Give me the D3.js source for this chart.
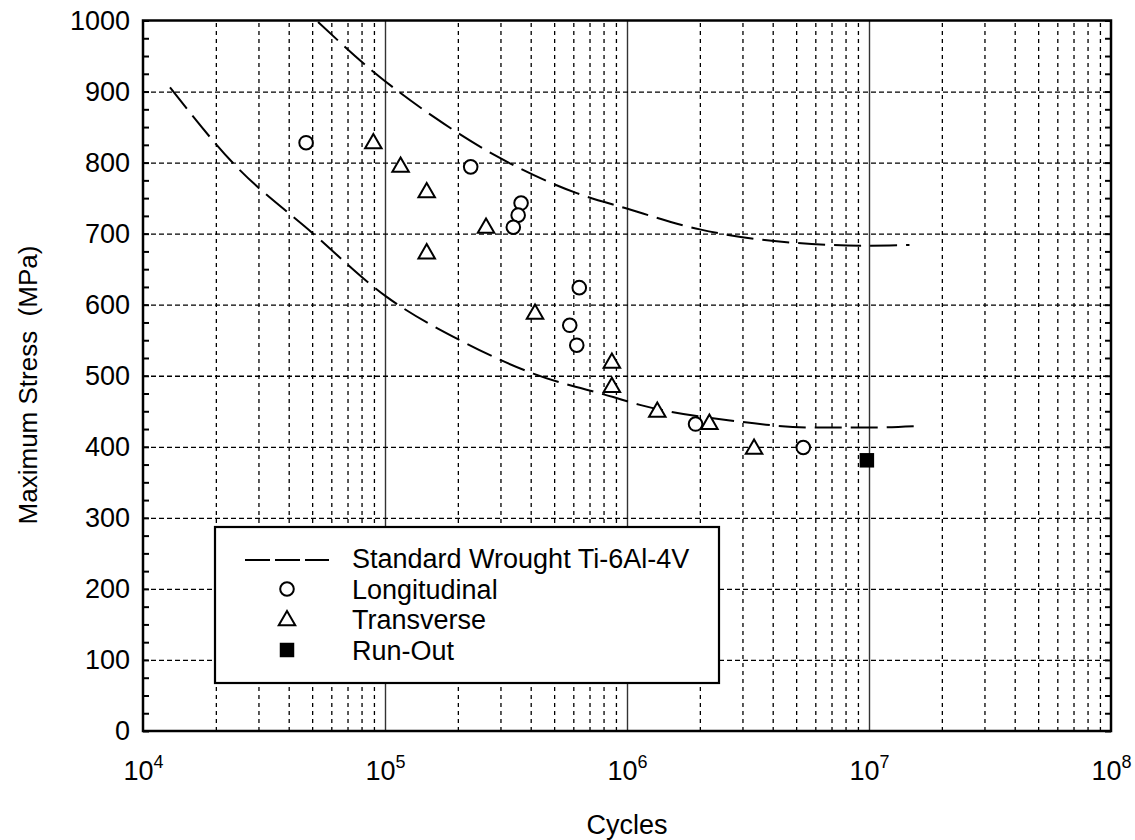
<!DOCTYPE html>
<html>
<head>
<meta charset="utf-8">
<script src="https://cdn.jsdelivr.net/npm/d3@7"></script>
<style>
  html, body { margin: 0; padding: 0; background: #fff; }
  svg { display: block; font-family: "Liberation Sans", Arial, sans-serif; }
</style>
</head>
<body>
<svg id="chart" width="1135" height="840"></svg>
<script>
// ---- data ----
const xTickExps = [4, 5, 6, 7, 8];
const yTickValues = [0, 100, 200, 300, 400, 500, 600, 700, 800, 900, 1000];

const longN = [47200, 226000, 365000, 355000, 339000, 635000, 580000, 620000, 1920000, 5350000];
const longS = [828, 794, 743, 726, 709, 624, 571, 543, 432, 399];

const transN = [89500, 116000, 148700, 148700, 261500, 416800, 866000, 866000, 1334000, 2190000, 3350000];
const transS = [829, 796, 760, 674, 710, 589, 520, 486, 451, 434, 399];

const runN = [9800000];
const runS = [381];

const upperN = [52900, 89500, 158000, 293000, 620000, 982000, 2000000, 3960000, 9930000, 14700000];
const upperS = [998, 928, 865, 808, 757, 736, 706, 690, 683, 684];

const lowerN = [12930, 23600, 50500, 101600, 204000, 410000, 877000, 1130000, 2670000, 6080000, 9770000, 15500000];
const lowerS = [906, 799, 700, 611, 550, 503, 470, 459, 437, 427, 427, 429];

const legendLabels = ["Standard Wrought Ti-6Al-4V", "Longitudinal", "Transverse", "Run-Out"];

// ---- layout ----
const L = 143, R = 1111, T = 20.5, B = 731;
const FS = 27;
const svg = d3.select("#chart");
const x = d3.scaleLog().domain([1e4, 1e8]).range([L, R]);
const y = d3.scaleLinear().domain([0, 1000]).range([B, T]);

const decades = xTickExps.map(e => Math.pow(10, e));
const minorX = [];
for (let e = 4; e < 8; e++) for (let m = 2; m <= 9; m++) minorX.push(m * Math.pow(10, e));

// vertical minor grid (dotted)
const gMinor = svg.append("g").attr("transform", `translate(0,${B})`)
  .call(d3.axisBottom(x).tickValues(minorX).tickSize(-(B - T)).tickFormat(""));
gMinor.select(".domain").remove();
gMinor.selectAll(".tick line").attr("stroke", "#000").attr("stroke-width", 1.3).attr("stroke-dasharray", "4,4");

// vertical decade grid (solid)
const gDec = svg.append("g").attr("transform", `translate(0,${B})`)
  .call(d3.axisBottom(x).tickValues(decades.slice(1, 4)).tickSize(-(B - T)).tickFormat(""));
gDec.select(".domain").remove();
gDec.selectAll(".tick line").attr("stroke", "#333").attr("stroke-width", 1.4);

// horizontal grid (dashed)
const gH = svg.append("g").attr("transform", `translate(${L},0)`)
  .call(d3.axisLeft(y).tickValues(yTickValues.slice(1, 10)).tickSize(-(R - L)).tickFormat(""));
gH.select(".domain").remove();
gH.selectAll(".tick line").attr("stroke", "#000").attr("stroke-width", 1.3).attr("stroke-dasharray", "5,3");

// curves
const line = d3.line().x(d => x(d[0])).y(d => y(d[1])).curve(d3.curveMonotoneX);
[[upperN, upperS], [lowerN, lowerS]].forEach(([ns, ss]) => {
  svg.append("path")
    .attr("d", line(ns.map((n, i) => [n, ss[i]])))
    .attr("fill", "none").attr("stroke", "#000").attr("stroke-width", 2)
    .attr("stroke-dasharray", "27,9");
});

// points
const circ = d3.symbol().type(d3.symbolCircle).size(Math.PI * 6.8 * 6.8);
const tri = d3.symbol().type(d3.symbolTriangle).size(118);
const sq = d3.symbol().type(d3.symbolSquare).size(210);

svg.append("g").selectAll("path").data(longN.map((n, i) => [n, longS[i]])).join("path")
  .attr("d", circ).attr("transform", d => `translate(${x(d[0])},${y(d[1])})`)
  .attr("fill", "#fff").attr("stroke", "#000").attr("stroke-width", 2);

svg.append("g").selectAll("path").data(transN.map((n, i) => [n, transS[i]])).join("path")
  .attr("d", tri).attr("transform", d => `translate(${x(d[0])},${y(d[1]) + 1.5})`)
  .attr("fill", "#fff").attr("stroke", "#000").attr("stroke-width", 2);

svg.append("g").selectAll("path").data(runN.map((n, i) => [n, runS[i]])).join("path")
  .attr("d", sq).attr("transform", d => `translate(${x(d[0])},${y(d[1])})`)
  .attr("fill", "#000");

// legend
const lg = svg.append("g");
lg.append("rect").attr("x", 215).attr("y", 527).attr("width", 504).attr("height", 156)
  .attr("fill", "#fff").attr("stroke", "#000").attr("stroke-width", 2.2);
const rowY = [558, 589, 619, 650];
lg.append("line").attr("x1", 245).attr("x2", 329).attr("y1", rowY[0] + 2).attr("y2", rowY[0] + 2)
  .attr("stroke", "#000").attr("stroke-width", 2).attr("stroke-dasharray", "25,5");
lg.append("path").attr("d", circ).attr("transform", `translate(287,${rowY[1]})`)
  .attr("fill", "#fff").attr("stroke", "#000").attr("stroke-width", 2);
lg.append("path").attr("d", tri).attr("transform", `translate(287,${rowY[2] + 1.5})`)
  .attr("fill", "#fff").attr("stroke", "#000").attr("stroke-width", 2);
lg.append("path").attr("d", sq).attr("transform", `translate(287,${rowY[3]})`).attr("fill", "#000");
lg.selectAll("text.lab").data(legendLabels).join("text").attr("class", "lab")
  .attr("x", 352).attr("y", (d, i) => rowY[i]).attr("dy", "0.36em")
  .attr("font-size", FS).attr("fill", "#000").text(d => d);

// frame
svg.append("rect").attr("x", L).attr("y", T).attr("width", R - L).attr("height", B - T)
  .attr("fill", "none").attr("stroke", "#000").attr("stroke-width", 2.5);

// y axis minor ticks (left and right, inward)
const yMinor = d3.range(0, 1001, 25);
const gyL = svg.append("g").attr("transform", `translate(${L},0)`)
  .call(d3.axisLeft(y).tickValues(yMinor).tickSize(-6).tickFormat(""));
gyL.select(".domain").remove();
gyL.selectAll(".tick line").attr("stroke", "#000").attr("stroke-width", 2);
const gyR = svg.append("g").attr("transform", `translate(${R},0)`)
  .call(d3.axisRight(y).tickValues(yMinor).tickSize(-6).tickFormat(""));
gyR.select(".domain").remove();
gyR.selectAll(".tick line").attr("stroke", "#000").attr("stroke-width", 2);

// y tick labels
const gyLab = svg.append("g").attr("transform", `translate(${L},0)`)
  .call(d3.axisLeft(y).tickValues(yTickValues).tickSize(0).tickPadding(13).tickFormat(d3.format("d")));
gyLab.select(".domain").remove();
gyLab.attr("font-size", null).attr("font-family", null);
gyLab.selectAll("text").attr("font-size", FS).attr("fill", "#000");

// x axis labels (powers of ten)
const gx = svg.append("g").attr("transform", `translate(0,${B})`)
  .call(d3.axisBottom(x).tickValues(decades).tickSize(0).tickPadding(0).tickFormat(""));
gx.select(".domain").remove();
gx.attr("font-size", null).attr("font-family", null);
gx.selectAll(".tick").each(function (d, i) {
  const t = d3.select(this).append("text").attr("y", 49).attr("text-anchor", "middle")
    .attr("font-size", FS).attr("fill", "#000");
  t.append("tspan").text("10");
  t.append("tspan").attr("dy", -12).attr("font-size", 18).text(xTickExps[i]);
});

// axis titles
svg.append("text").attr("x", 627).attr("y", 834).attr("text-anchor", "middle")
  .attr("font-size", FS).attr("fill", "#000").text("Cycles");
svg.append("text").attr("transform", "translate(37,385) rotate(-90)").attr("text-anchor", "middle")
  .attr("font-size", 26).attr("fill", "#000")
  .style("white-space", "pre").text("Maximum Stress  (MPa)");
</script>
</body>
</html>
